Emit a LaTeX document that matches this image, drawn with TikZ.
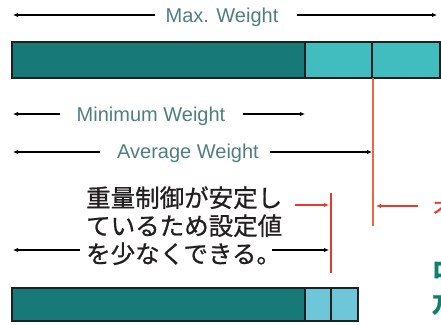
\documentclass[tikz,border=0pt]{standalone}
\usepackage{fontspec}
\usepackage{xcolor}
\setmainfont{Liberation Sans}
\newfontfamily\jpfont[FakeBold=0.8]{Noto Sans CJK JP}
\usetikzlibrary{arrows.meta}
\definecolor{darkteal}{HTML}{177A78}
\definecolor{midteal}{HTML}{41BDC0}
\definecolor{paleteal}{HTML}{6DC7D8}
\definecolor{labelgray}{HTML}{4E7F7E}
\definecolor{setred}{HTML}{E8392D}
\definecolor{setorange}{HTML}{EE6444}
\definecolor{notegreen}{HTML}{0E8070}
\definecolor{inkgray}{HTML}{231F20}
\tikzset{
  dim/.style={line width=1.8pt, -{Latex[length=5pt,width=4.5pt]}},
  wlabel/.style={anchor=base, inner sep=0pt, text=labelgray, font=\fontsize{20}{20}\selectfont},
  barbox/.style={draw=inkgray, line width=1.5pt}
}

\begin{document}
\begin{tikzpicture}[x=1pt, y=-1pt]
\useasboundingbox (0,0) rectangle (441,324);
% Max weight
\fill[darkteal] (12,42) rectangle (305,78);
\fill[midteal] (305,42) rectangle (440,78);
\draw[barbox] (12,42) rectangle (440,78);
\draw[barbox] (305,42) -- (305,78) (372,42) -- (372,78);
\node[wlabel] (maxlbl) at (222,22) {Max. Weight};
\coordinate (max1) at (155,15); \coordinate (max0) at (13,15);
\coordinate (max2) at (297,15); \coordinate (max3) at (437,15);
\draw[dim] (max1) -- (max0);
\draw[dim] (max2) -- (max3);
% Minimum / average weight
\node[wlabel] (minlbl) at (151,121) {Minimum Weight};
\coordinate (min1) at (60,114); \coordinate (min0) at (13,114);
\coordinate (min2) at (243,114); \coordinate (min3) at (305,114);
\draw[dim] (min1) -- (min0);
\draw[dim] (min2) -- (min3);
\node[wlabel] (avglbl) at (188,158) {Average Weight};
\coordinate (avg1) at (100,152); \coordinate (avg0) at (13,152);
\coordinate (avg2) at (270,152); \coordinate (avg3) at (372,152);
\draw[dim] (avg1) -- (avg0);
\draw[dim] (avg2) -- (avg3);
% set value lines
\coordinate (oldtop) at (373,78); \coordinate (oldbot) at (373,226);
\draw[setorange, line width=2.4pt] (oldtop) -- (oldbot);
\coordinate (newtop) at (331,193); \coordinate (newbot) at (331,273);
\draw[setred, line width=2.2pt] (newtop) -- (newbot);
\coordinate (oldarr) at (418,206); \coordinate (oldtip) at (376,206);
\draw[dim, setred, line width=1.6pt] (oldarr) -- (oldtip);
\coordinate (newarr) at (295,205); \coordinate (newtip) at (329,205);
\draw[dim, setred, line width=1.6pt] (newarr) -- (newtip);
% note text
\node[anchor=base west, inner sep=0pt, align=left, text=inkgray,
  font=\jpfont\fontsize{24.5}{28}\selectfont] (note) at (86,263)
  {重量制御が安定し\\ているため設定値\\を少なくできる。};
\coordinate (ctl1) at (80,250); \coordinate (ctl0) at (13,250);
\coordinate (ctl2) at (272,250); \coordinate (ctl3) at (329,250);
\draw[dim] (ctl1) -- (ctl0);
\draw[dim] (ctl2) -- (ctl3);
% controlled weight
\fill[darkteal] (12,288) rectangle (305,321);
\fill[paleteal] (305,288) rectangle (358,321);
\draw[barbox] (12,288) rectangle (358,321);
\draw[barbox] (305,288) -- (305,321) (331,288) -- (331,321);
% cut-off side notes
\node[anchor=west, inner sep=0pt, text=setred, font=\jpfont\fontsize{22}{22}\selectfont] (rednote) at (432,207) {オ};
\node[anchor=west, inner sep=0pt, text=notegreen, font=\jpfont\bfseries\fontsize{22}{22}\selectfont] (greennote1) at (432,270) {ロ};
\node[anchor=west, inner sep=0pt, text=notegreen, font=\jpfont\bfseries\fontsize{22}{22}\selectfont] (greennote2) at (432,305) {万};
\end{tikzpicture}
\end{document}
